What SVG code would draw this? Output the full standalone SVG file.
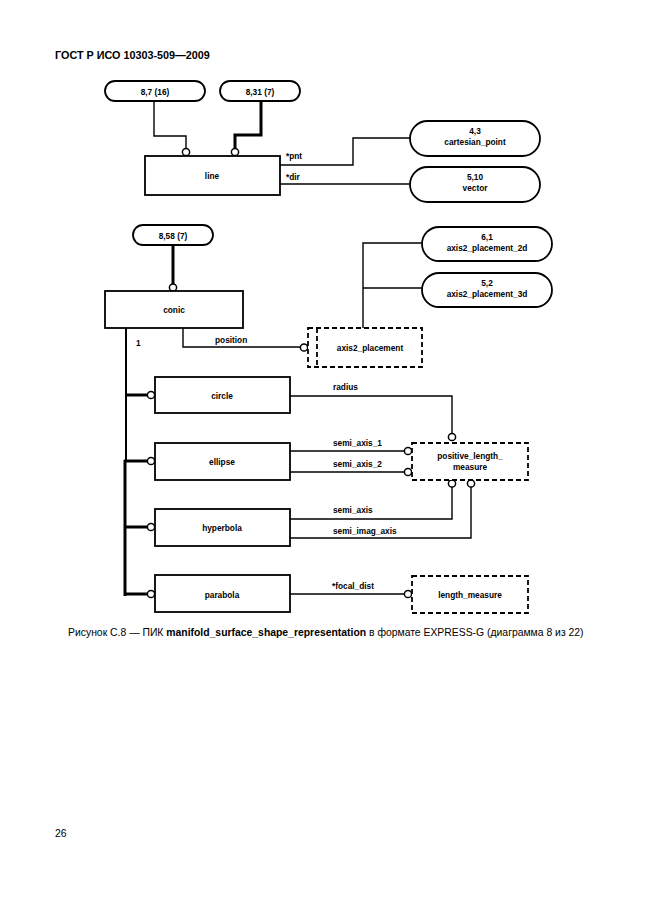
<svg xmlns="http://www.w3.org/2000/svg" width="646" height="913" viewBox="0 0 646 913">
<style>
.bg{fill:#fff}
.box{fill:#fff;stroke:#000;stroke-width:1.8}
.dbox{fill:#fff;stroke:#000;stroke-width:1.8;stroke-dasharray:5,3}
.dl{fill:none;stroke:#000;stroke-width:1.8;stroke-dasharray:5,3}
.ln{fill:none;stroke:#000;stroke-width:1.4}
.mid{fill:none;stroke:#000;stroke-width:2}
.thk{fill:none;stroke:#000;stroke-width:3}
.cir{fill:#fff;stroke:#000;stroke-width:1.5}
.t{font-family:"Liberation Sans",Arial,sans-serif;font-size:8.3px;font-weight:bold;text-anchor:middle;fill:#000}
.lb{font-family:"Liberation Sans",Arial,sans-serif;font-size:8.3px;font-weight:bold;fill:#000}
.hdr{font-family:"Liberation Sans",Arial,sans-serif;font-size:10.8px;font-weight:bold;fill:#000}
.cap{font-family:"Liberation Sans",Arial,sans-serif;font-size:10.4px;fill:#000}
</style>
<rect class="bg" x="0" y="0" width="646" height="913"/>
<text class="hdr" x="55" y="59">ГОСТ Р ИСО 10303-509—2009</text>

<g id="connectors">
  <polyline class="ln" points="154,101 154,136 186,136 186,148"/>
  <polyline class="thk" points="261,101 261,135 235,135 235,148"/>
  <polyline class="ln" points="280,165 353,165 353,138 410,138"/>
  <polyline class="ln" points="280,184 410,184"/>
  <polyline class="thk" points="173,245 173,284"/>
  <polyline class="ln" points="183,328 183,347 301,347"/>
  <polyline class="ln" points="363,328 363,243 422,243"/>
  <polyline class="ln" points="363,288 422,288"/>
  <polyline class="mid" points="126,328 126,462"/>
  <polyline class="thk" points="125,460 125,596"/>
  <polyline class="thk" points="126,395 147,395"/>
  <polyline class="thk" points="124,461 147,461"/>
  <polyline class="thk" points="124,527 147,527"/>
  <polyline class="thk" points="124,594 147,594"/>
  <polyline class="ln" points="290,396 452,396 452,433"/>
  <polyline class="ln" points="290,451 404,451"/>
  <polyline class="ln" points="290,472 404,472"/>
  <polyline class="ln" points="290,519 452,519 452,487"/>
  <polyline class="ln" points="290,538 471,538 471,487"/>
  <polyline class="ln" points="290,594 404,594"/>
  <circle class="cir" cx="186" cy="152" r="3.6"/>
  <circle class="cir" cx="235" cy="152" r="3.6"/>
  <circle class="cir" cx="173" cy="287.5" r="3.6"/>
  <circle class="cir" cx="304" cy="347.5" r="3.6"/>
  <circle class="cir" cx="151" cy="395" r="3.6"/>
  <circle class="cir" cx="151" cy="461" r="3.6"/>
  <circle class="cir" cx="151" cy="527" r="3.6"/>
  <circle class="cir" cx="151" cy="594" r="3.6"/>
  <circle class="cir" cx="452" cy="437" r="3.6"/>
  <circle class="cir" cx="408" cy="451" r="3.6"/>
  <circle class="cir" cx="408" cy="472" r="3.6"/>
  <circle class="cir" cx="452" cy="483.5" r="3.6"/>
  <circle class="cir" cx="471" cy="483.5" r="3.6"/>
  <circle class="cir" cx="408" cy="594" r="3.6"/>
  <text class="lb" x="286" y="159">*pnt</text>
  <text class="lb" x="286" y="180">*dir</text>
  <text class="lb" x="215" y="343">position</text>
  <text class="lb" x="136" y="346">1</text>
  <text class="lb" x="333" y="390">radius</text>
  <text class="lb" x="333" y="446">semi_axis_1</text>
  <text class="lb" x="333" y="467">semi_axis_2</text>
  <text class="lb" x="333" y="513">semi_axis</text>
  <text class="lb" x="333" y="534">semi_imag_axis</text>
  <text class="lb" x="332" y="589">*focal_dist</text>
</g>

<g id="p87">
  <rect class="box" x="105" y="81" width="100" height="20" rx="10"/>
  <text class="t" x="155" y="94.5">8,7 (16)</text>
</g>
<g id="p831">
  <rect class="box" x="220" y="81" width="80" height="20" rx="10"/>
  <text class="t" x="260" y="94.5">8,31 (7)</text>
</g>
<g id="line">
  <rect class="box" x="145" y="156" width="135" height="39"/>
  <text class="t" x="212" y="178.5">line</text>
</g>
<g id="cartesian_point">
  <rect class="box" x="410" y="121" width="130" height="35" rx="17.5"/>
  <text class="t" x="475" y="134">4,3</text>
  <text class="t" x="475" y="144.5">cartesian_point</text>
</g>
<g id="vector">
  <rect class="box" x="410" y="167" width="130" height="35" rx="17.5"/>
  <text class="t" x="475" y="180">5,10</text>
  <text class="t" x="475" y="190.5">vector</text>
</g>
<g id="p858">
  <rect class="box" x="133" y="225" width="80" height="20" rx="10"/>
  <text class="t" x="173" y="238.5">8,58 (7)</text>
</g>
<g id="conic">
  <rect class="box" x="105" y="291" width="138" height="37"/>
  <text class="t" x="174" y="312.5">conic</text>
</g>
<g id="axis2_placement_2d">
  <rect class="box" x="422" y="227" width="130" height="34" rx="17"/>
  <text class="t" x="487" y="240">6,1</text>
  <text class="t" x="487" y="250.5">axis2_placement_2d</text>
</g>
<g id="axis2_placement_3d">
  <rect class="box" x="422" y="273" width="130" height="34" rx="17"/>
  <text class="t" x="487" y="286">5,2</text>
  <text class="t" x="487" y="296.5">axis2_placement_3d</text>
</g>
<g id="axis2_placement">
  <rect class="dbox" x="308" y="328" width="114" height="39"/>
  <line class="dl" x1="317" y1="328" x2="317" y2="367"/>
  <text class="t" x="370" y="350.5">axis2_placement</text>
</g>
<g id="circle">
  <rect class="box" x="155" y="377" width="135" height="36"/>
  <text class="t" x="222" y="398.5">circle</text>
</g>
<g id="ellipse">
  <rect class="box" x="155" y="443" width="135" height="37"/>
  <text class="t" x="222" y="464.5">ellipse</text>
</g>
<g id="hyperbola">
  <rect class="box" x="155" y="509" width="135" height="37"/>
  <text class="t" x="222" y="530.5">hyperbola</text>
</g>
<g id="parabola">
  <rect class="box" x="155" y="575" width="135" height="37"/>
  <text class="t" x="222" y="597.5">parabola</text>
</g>
<g id="positive_length_measure">
  <rect class="dbox" x="412" y="443" width="116" height="37"/>
  <text class="t" x="470" y="459">positive_length_</text>
  <text class="t" x="470" y="469.5">measure</text>
</g>
<g id="length_measure">
  <rect class="dbox" x="412" y="576" width="116" height="37"/>
  <text class="t" x="470" y="597.5">length_measure</text>
</g>

<text class="cap" x="68" y="636">Рисунок С.8 — ПИК <tspan font-weight="bold">manifold_surface_shape_representation</tspan> в формате EXPRESS-G (диаграмма 8 из 22)</text>
<text class="cap" x="55" y="837">26</text>
</svg>
